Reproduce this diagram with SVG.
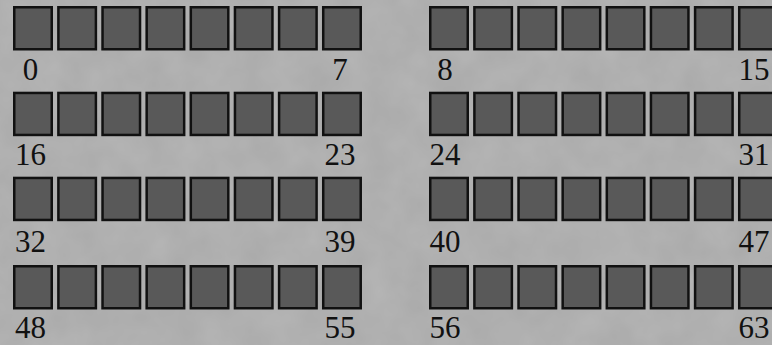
<svg xmlns="http://www.w3.org/2000/svg" xmlns:xlink="http://www.w3.org/1999/xlink" width="772" height="345" viewBox="0 0 772 345">
<style>
.cell{fill:#595959;stroke:#111;stroke-width:2.5}
.lbl{font-family:"Liberation Serif","Times New Roman",serif;font-size:31px;fill:#111;text-anchor:middle}
</style>
<defs>
<filter id="tex" x="0" y="0" width="100%" height="100%">
<feTurbulence type="fractalNoise" baseFrequency="0.03" numOctaves="3" seed="4"/>
<feColorMatrix type="matrix" values="0 0 0 0 0  0 0 0 0 0  0 0 0 0 0  0 0 0 0.07 0"/>
</filter>
<g id="row">
<rect class="cell" x="1.25" y="1.25" width="37.5" height="42"/>
<rect class="cell" x="45.39" y="1.25" width="37.5" height="42"/>
<rect class="cell" x="89.53" y="1.25" width="37.5" height="42"/>
<rect class="cell" x="133.67" y="1.25" width="37.5" height="42"/>
<rect class="cell" x="177.81" y="1.25" width="37.5" height="42"/>
<rect class="cell" x="221.95" y="1.25" width="37.5" height="42"/>
<rect class="cell" x="266.09" y="1.25" width="37.5" height="42"/>
<rect class="cell" x="310.23" y="1.25" width="37.5" height="42"/>
</g>
</defs>
<rect width="772" height="345" fill="#b6b6b6"/>
<rect width="772" height="345" filter="url(#tex)"/>
<g id="row0-7"><use xlink:href="#row" x="13" y="6"/><text class="lbl" x="30.5" y="80">0</text><text class="lbl" x="340" y="80">7</text></g>
<g id="row8-15"><use xlink:href="#row" x="429" y="6"/><text class="lbl" x="445" y="80">8</text><text class="lbl" x="754" y="80">15</text></g>
<g id="row16-23"><use xlink:href="#row" x="13" y="91.7"/><text class="lbl" x="30.5" y="165">16</text><text class="lbl" x="340" y="165">23</text></g>
<g id="row24-31"><use xlink:href="#row" x="429" y="91.7"/><text class="lbl" x="445" y="165">24</text><text class="lbl" x="754" y="165">31</text></g>
<g id="row32-39"><use xlink:href="#row" x="13" y="176.7"/><text class="lbl" x="30.5" y="252">32</text><text class="lbl" x="340" y="252">39</text></g>
<g id="row40-47"><use xlink:href="#row" x="429" y="176.7"/><text class="lbl" x="445" y="252">40</text><text class="lbl" x="754" y="252">47</text></g>
<g id="row48-55"><use xlink:href="#row" x="13" y="265"/><text class="lbl" x="30.5" y="338">48</text><text class="lbl" x="340" y="338">55</text></g>
<g id="row56-63"><use xlink:href="#row" x="429" y="265"/><text class="lbl" x="445" y="338">56</text><text class="lbl" x="754" y="338">63</text></g>
</svg>
